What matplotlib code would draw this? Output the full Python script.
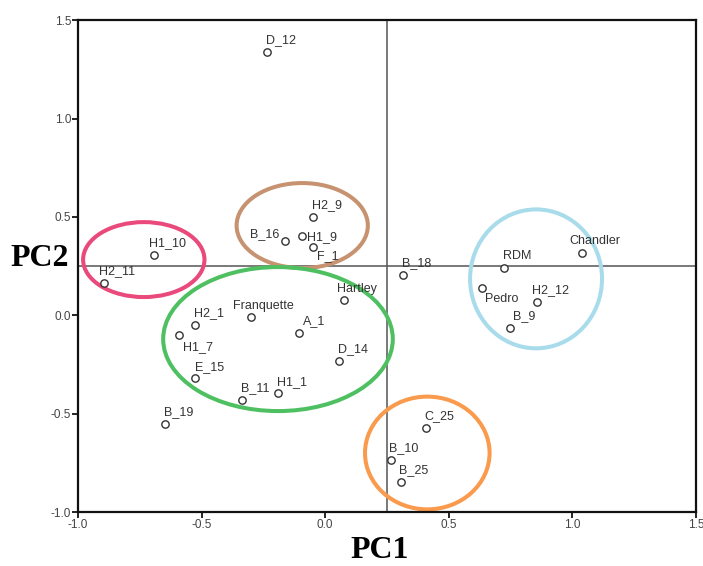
"""PCA biplot of walnut cultivars: PC1 vs PC2 with cluster ellipses."""

import matplotlib
matplotlib.use("Agg")
import matplotlib.pyplot as plt
from matplotlib.patches import Ellipse

# puntos (PC1, PC2)
names = ["D_12", "H2_9", "B_16", "H1_9", "F_1", "H1_10", "H2_11",
         "B_18", "RDM", "Chandler", "Pedro", "H2_12", "B_9",
         "Hartley", "Franquette", "H2_1", "H1_7", "A_1", "D_14",
         "E_15", "B_11", "H1_1", "B_19", "C_25", "B_10", "B_25"]
pc1 = [-0.234, -0.049, -0.163, -0.095, -0.049, -0.692, -0.893,
       0.316, 0.725, 1.037, 0.635, 0.858, 0.748,
       0.076, -0.299, -0.525, -0.590, -0.105, 0.056,
       -0.525, -0.336, -0.189, -0.647, 0.408, 0.266, 0.306]
pc2 = [1.339, 0.500, 0.379, 0.402, 0.348, 0.306, 0.165,
       0.206, 0.241, 0.314, 0.138, 0.067, -0.065,
       0.077, -0.011, -0.050, -0.101, -0.092, -0.231,
       -0.321, -0.431, -0.394, -0.554, -0.575, -0.736, -0.846]

# grupos: centro, ancho, alto, color
clusters = [
    ((-0.734, 0.283), 0.491, 0.381, "#EA4A7B"),
    ((-0.093, 0.456), 0.531, 0.432, "#C6926F"),
    ((-0.191, -0.121), 0.929, 0.732, "#4FC061"),
    ((0.853, 0.185), 0.534, 0.706, "#A8DCEA"),
    ((0.413, -0.700), 0.504, 0.573, "#F99A4D"),
]

ticks = [-1.0, -0.5, 0.0, 0.5, 1.0, 1.5]

# desplazamiento de etiquetas (pixeles) distinto del de por defecto
default_off = (-1.5, 12, "left")
label_off = {
    "B_16": (-6, 7, "right"),
    "H1_9": (5, -1, "left"),
    "F_1": (4, -9, "left"),
    "Pedro": (3, -11, "left"),
    "H1_7": (4, -12, "left"),
    "Chandler": (-12, 12, "left"),
    "Franquette": (-18, 11, "left"),
    "Hartley": (-6.5, 11, "left"),
    "H1_10": (-5, 12, "left"),
    "H2_11": (-5, 12, "left"),
    "H2_12": (-5, 12, "left"),
    "A_1": (3.5, 12, "left"),
    "B_9": (2.5, 12, "left"),
    "E_15": (0, 11, "left"),
    "H1_1": (-1.5, 11, "left"),
}

fig = plt.figure(figsize=(7.03, 5.66), dpi=100)
ax = fig.add_axes([0.111, 0.0954, 0.879, 0.869])

ax.axvline(0.25, color="#555555", lw=1.1, zorder=1)
ax.axhline(0.25, color="#555555", lw=1.1, zorder=1)

for (cx, cy), w, h, col in clusters:
    ax.add_patch(Ellipse((cx, cy), w, h, fill=False, edgecolor=col,
                         lw=2.9, zorder=2))

ax.scatter(pc1, pc2, s=28, facecolors="white", edgecolors="#333333",
           linewidths=1.0, zorder=3)

for n, x, y in zip(names, pc1, pc2):
    dx, dy, ha = label_off.get(n, default_off)
    ax.annotate(n, (x, y), xytext=(dx, dy), textcoords="offset pixels",
                ha=ha, va="center", fontsize=9, color="#333333",
                family="Liberation Sans", zorder=4)

ax.set_xlim(-1.0, 1.5)
ax.set_ylim(-1.0, 1.5)
ax.set_xticks(ticks)
ax.set_yticks(ticks)
ax.set_xticklabels([f"{t:.1f}" for t in ticks])
ax.set_yticklabels([f"{t:.1f}" for t in ticks])
ax.tick_params(direction="out", length=4, width=1.2, labelsize=8.5,
               labelcolor="#444444", pad=1)
for lab in ax.get_xticklabels() + ax.get_yticklabels():
    lab.set_family("Liberation Sans")
for sp in ax.spines.values():
    sp.set_linewidth(1.6)
    sp.set_color("#111111")

fig.text(0.5405, 0.028, "PC1", ha="center", va="center", fontsize=23,
         fontweight="bold", family="Liberation Serif")
fig.text(0.057, 0.544, "PC2", ha="center", va="center", fontsize=23,
         fontweight="bold", family="Liberation Serif")

fig.savefig("out.png", dpi=100)
plt.close(fig)
